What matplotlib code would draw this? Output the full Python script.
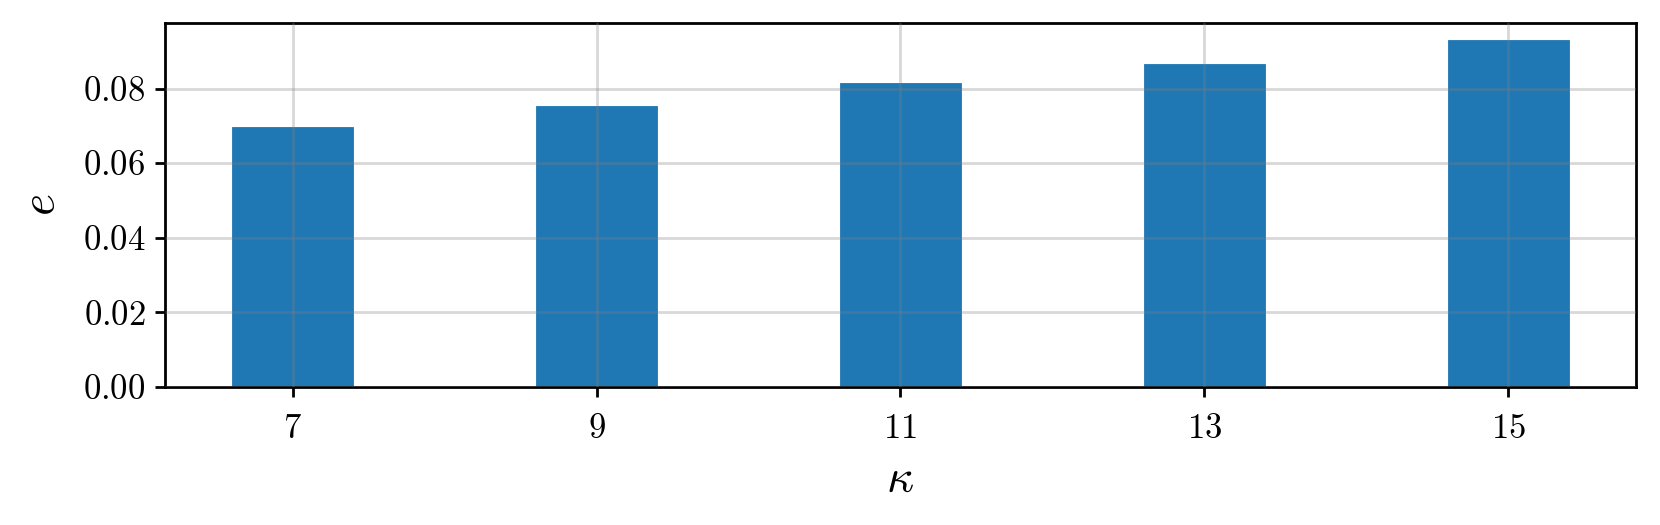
#!/usr/bin/env python3

import matplotlib
matplotlib.use('Agg')
import matplotlib.pyplot as plt
import numpy as np

kappa = [7, 9, 11, 13, 15]
err = [0.0697, 0.0752, 0.0815, 0.0865, 0.0929]

plt.rcParams['font.family'] = 'serif'
plt.rcParams['font.serif'] = ['cmr10']
plt.rcParams['mathtext.fontset'] = 'cm'
plt.rcParams['axes.formatter.use_mathtext'] = True
plt.rcParams['font.size'] = 12.5

fig, ax = plt.subplots(figsize=(8.3, 2.625), dpi=200)
ax.bar(kappa, err, width=0.8, color='#1f77b4', edgecolor='#1f77b4', linewidth=0.3, zorder=1)
ax.grid(True, color='gray', alpha=0.3, linewidth=1.0, zorder=2)
ax.set_axisbelow(False)

ax.set_xticks(kappa)
ax.set_xlabel(r'$\kappa$', fontsize=17, labelpad=5)
ax.set_ylabel(r'$e$', fontsize=17, labelpad=7)
ax.tick_params(width=1.0, length=3.5)
ax.tick_params(axis='x', pad=6)
for s in ax.spines.values():
    s.set_linewidth(1.0)

fig.subplots_adjust(left=0.0994, right=0.9855, top=0.956, bottom=0.263)
fig.savefig('out.png', dpi=200)
